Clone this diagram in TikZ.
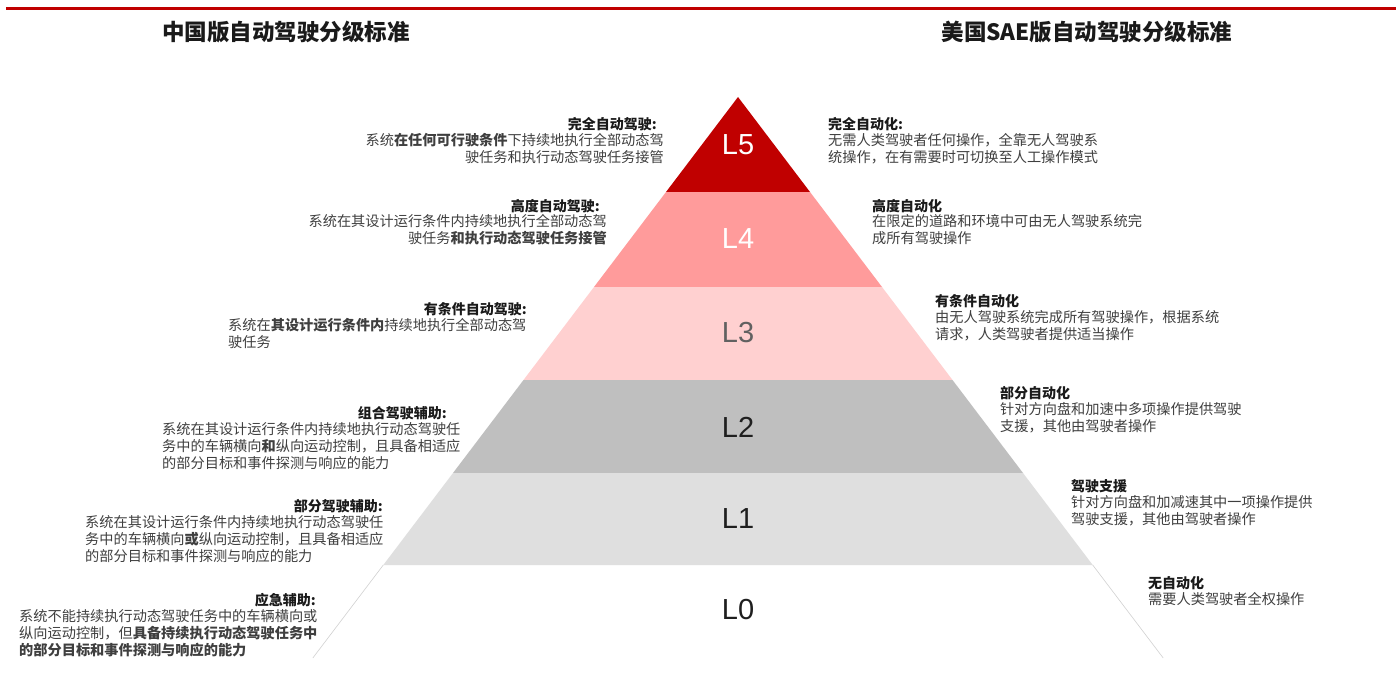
\documentclass[tikz,border=0pt]{standalone}
\usepackage{fontspec}
\newfontfamily\cjk{Noto Sans CJK SC}
\newfontfamily\labfont{Liberation Sans}
\definecolor{topred}{HTML}{C00000}
\definecolor{cL5}{HTML}{C00000}
\definecolor{cL4}{HTML}{FF9B9B}
\definecolor{cL3}{HTML}{FFD0D0}
\definecolor{cL2}{HTML}{BFBFBF}
\definecolor{cL1}{HTML}{DFDFDF}
\definecolor{bodytxt}{HTML}{3F3F3F}
\definecolor{titletxt}{HTML}{1A1A1A}
\begin{document}
\begin{tikzpicture}[x=1pt,y=-1pt,
  header/.style={font=\cjk\bfseries\fontsize{22.5}{26}\selectfont,text=titletxt,inner sep=0pt},
  ttl/.style={font=\cjk\bfseries\fontsize{14}{17}\selectfont,text=titletxt,inner sep=0pt},
  body/.style={font=\cjk\fontsize{14.2}{17}\selectfont,text=bodytxt,inner sep=0pt},
  lvl/.style={font=\labfont\fontsize{29}{31}\selectfont,inner sep=0pt}]
\useasboundingbox (0,0) rectangle (1396,687);
\fill[white] (0,0) rectangle (1396,687);
% top red rule
\fill[topred] (6,7) rectangle (1396,10.5);
% headers
\node[header] (h1) at (286,32) {中国版自动驾驶分级标准};
\node[header] (h2) at (1087,32) {美国SAE版自动驾驶分级标准};
% pyramid bands
\fill[cL5] (738,97) -- (810,192) -- (666,192) -- cycle;
\fill[cL4] (666,192) -- (810,192) -- (882,287) -- (594,287) -- cycle;
\fill[cL3] (594,287) -- (882,287) -- (952.5,380) -- (523.5,380) -- cycle;
\fill[cL2] (523.5,380) -- (952.5,380) -- (1023,473) -- (453,473) -- cycle;
\fill[cL1] (453,473) -- (1023,473) -- (1092.7,565) -- (383.3,565) -- cycle;
\draw[black!18,line width=0.6pt] (383.3,565) -- (312.8,658);
\draw[black!18,line width=0.6pt] (1092.7,565) -- (1163.2,658);
% level labels
\node[lvl,text=white] (L5) at (738,145) {L5};
\node[lvl,text=white] (L4) at (738,239) {L4};
\node[lvl,text=black!62] (L3) at (738,333) {L3};
\node[lvl,text=black!88] (L2) at (738,427) {L2};
\node[lvl,text=black!88] (L1) at (738,519) {L1};
\node[lvl,text=black!88] (L0) at (738,610) {L0};
% left descriptions
\node[ttl,anchor=east] (a5t) at (657,124) {完全自动驾驶:};
\node[body,align=right,anchor=north east] (a5b) at (664,133) {系统\textbf{在任何可行驶条件}下持续地执行全部动态驾\\驶任务和执行动态驾驶任务接管};
\node[ttl,anchor=east] (a4t) at (600,206) {高度自动驾驶:};
\node[body,align=right,anchor=north east] (a4b) at (607,214) {系统在其设计运行条件内持续地执行全部动态驾\\驶任务\textbf{和执行动态驾驶任务接管}};
\node[ttl,anchor=east] (a3t) at (527,309) {有条件自动驾驶:};
\node[body,align=left,anchor=north west] (a3b) at (228,318) {系统在\textbf{其设计运行条件内}持续地执行全部动态驾\\驶任务};
\node[ttl,anchor=east] (a2t) at (447,413) {组合驾驶辅助:};
\node[body,align=left,anchor=north west] (a2b) at (162,422) {系统在其设计运行条件内持续地执行动态驾驶任\\务中的车辆横向\textbf{和}纵向运动控制，且具备相适应\\的部分目标和事件探测与响应的能力};
\node[ttl,anchor=east] (a1t) at (383,506) {部分驾驶辅助:};
\node[body,align=left,anchor=north west] (a1b) at (85,515) {系统在其设计运行条件内持续地执行动态驾驶任\\务中的车辆横向\textbf{或}纵向运动控制，且具备相适应\\的部分目标和事件探测与响应的能力};
\node[ttl,anchor=east] (a0t) at (316,600) {应急辅助:};
\node[body,align=left,anchor=north west] (a0b) at (19,609) {系统不能持续执行动态驾驶任务中的车辆横向或\\纵向运动控制，但\textbf{具备持续执行动态驾驶任务中}\\\textbf{的部分目标和事件探测与响应的能力}};
% right descriptions
\node[ttl,anchor=west] (b5t) at (828,124) {完全自动化:};
\node[body,align=left,anchor=north west] (b5b) at (828,133) {无需人类驾驶者任何操作，全靠无人驾驶系\\统操作，在有需要时可切换至人工操作模式};
\node[ttl,anchor=west] (b4t) at (872,206) {高度自动化};
\node[body,align=left,anchor=north west] (b4b) at (872,214) {在限定的道路和环境中可由无人驾驶系统完\\成所有驾驶操作};
\node[ttl,anchor=west] (b3t) at (935,301) {有条件自动化};
\node[body,align=left,anchor=north west] (b3b) at (935,310) {由无人驾驶系统完成所有驾驶操作，根据系统\\请求，人类驾驶者提供适当操作};
\node[ttl,anchor=west] (b2t) at (1000,393) {部分自动化};
\node[body,align=left,anchor=north west] (b2b) at (1000,402) {针对方向盘和加速中多项操作提供驾驶\\支援，其他由驾驶者操作};
\node[ttl,anchor=west] (b1t) at (1071,486) {驾驶支援};
\node[body,align=left,anchor=north west] (b1b) at (1071,495) {针对方向盘和加减速其中一项操作提供\\驾驶支援，其他由驾驶者操作};
\node[ttl,anchor=west] (b0t) at (1148,583) {无自动化};
\node[body,align=left,anchor=north west] (b0b) at (1148,592) {需要人类驾驶者全权操作};
\end{tikzpicture}
\end{document}
